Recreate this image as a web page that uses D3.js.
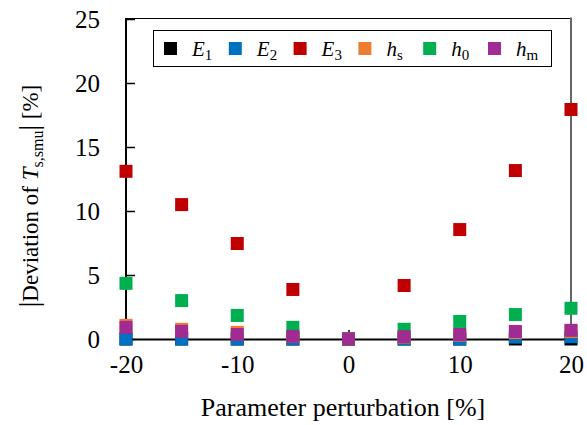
<!DOCTYPE html>
<html>
<head>
<meta charset="utf-8">
<script src="https://cdn.jsdelivr.net/npm/d3@7"></script>
<style>
  body { margin: 0; background: #fff; }
  text { font-family: "Liberation Serif", "Times New Roman", serif; fill: #000; }
</style>
</head>
<body>
<div id="chart"></div>
<script>
// parameter perturbation [%]
const perturbation = [-20, -15, -10, -5, 0, 5, 10, 15, 20];

// |deviation of T_s,smu| [%] for each perturbed parameter
const E1 = [0, 0, 0, 0, 0, 0, 0, 0, 0];
const E2 = [0, 0, 0, 0, 0, 0, 0, 0.15, 0.18];
const E3 = [13.1, 10.5, 7.46, 3.87, 0, 4.18, 8.55, 13.16, 17.93];
const hs = [1.07, 0.76, 0.52, 0.2, 0, 0.15, 0.3, 0.5, 0.58];
const h0 = [4.35, 3.0, 1.84, 0.91, 0, 0.76, 1.37, 1.91, 2.4];
const hm = [0.91, 0.6, 0.35, 0.21, 0, 0.18, 0.35, 0.59, 0.68];

const seriesValues = [E1, E2, E3, hs, h0, hm];
const seriesLabels = [["E", "1"], ["E", "2"], ["E", "3"], ["h", "s"], ["h", "0"], ["h", "m"]];
const seriesColors = ["#000000", "#0070C0", "#C00000", "#ED7D31", "#00B050", "#A02B93"];

const xTicks = [-20, -10, 0, 10, 20];
const yTicks = [0, 5, 10, 15, 20, 25];

function draw_chart(wrapper)
{
  let svg = d3.select(wrapper).append("svg")
    .attr("width", 587).attr("height", 425);

  let scalex = d3.scaleLinear().domain([-20, 20]).range([126, 571]);
  let scaley = d3.scaleLinear().domain([0, 25]).range([339, 19]);

  // plot area border (top black, right grey)
  svg.append("line")
    .attr("x1", 126).attr("x2", 571)
    .attr("y1", 18.5).attr("y2", 18.5)
    .attr("stroke", "#000").attr("stroke-width", 1.2);
  svg.append("line")
    .attr("x1", 571).attr("x2", 571)
    .attr("y1", 17.5).attr("y2", 339)
    .attr("stroke", "#666").attr("stroke-width", 2);

  // plain hyphen for negatives, like the original
  let fmt = d => String(d);

  let y_axis = d3.axisLeft(scaley).tickValues(yTicks).tickFormat(fmt)
    .tickSizeInner(-9).tickSizeOuter(0).tickPadding(26);
  let gy = svg.append("g")
    .attr("transform", "translate(126,0)")
    .call(y_axis);

  let x_axis = d3.axisBottom(scalex).tickValues(xTicks).tickFormat(fmt)
    .tickSizeInner(-9).tickSizeOuter(0).tickPadding(16);
  let gx = svg.append("g")
    .attr("transform", "translate(0,339)")
    .call(x_axis);

  [gx, gy].forEach(g => {
    g.select(".domain").attr("stroke", "#000").attr("stroke-width", 2);
    g.selectAll(".tick line").attr("stroke", "#000").attr("stroke-width", 1.5);
    g.selectAll(".tick text")
      .style("font-family", "'Liberation Serif', serif")
      .style("font-size", "25px").attr("fill", "#000");
  });
  gy.select(".domain").attr("d", "M0,339V18");

  // markers, drawn in series order so the last one sits on top
  seriesValues.forEach((vals, i) => {
    svg.append("g")
      .selectAll("rect")
      .data(vals.map((v, j) => [perturbation[j], v]))
      .enter()
      .append("rect")
      .attr("x", d => scalex(d[0]) - 6.5)
      .attr("y", d => scaley(d[1]) - 6.5)
      .attr("width", 13)
      .attr("height", 13)
      .attr("fill", seriesColors[i]);
  });

  // legend
  svg.append("rect")
    .attr("x", 153.5).attr("y", 30.5)
    .attr("width", 398).attr("height", 36)
    .attr("fill", "#fff").attr("stroke", "#000").attr("stroke-width", 1);

  seriesLabels.forEach((lab, i) => {
    let lx = 164 + i * 64.8;
    svg.append("rect")
      .attr("x", lx).attr("y", 42)
      .attr("width", 13).attr("height", 13)
      .attr("fill", seriesColors[i]);
    let t = svg.append("text")
      .attr("x", lx + 28).attr("y", 56)
      .style("font-size", "21px");
    t.append("tspan").style("font-style", "italic").text(lab[0]);
    t.append("tspan").attr("dy", 4).style("font-size", "15px").text(lab[1]);
  });

  // x axis title
  svg.append("text")
    .attr("x", 343).attr("y", 416)
    .attr("text-anchor", "middle")
    .style("font-size", "26px")
    .text("Parameter perturbation [%]");

  // y axis title
  let yt = svg.append("text")
    .attr("transform", "translate(38,196) rotate(-90)")
    .attr("text-anchor", "middle")
    .style("font-size", "23px");
  yt.append("tspan").style("font-size", "28px").text("|");
  yt.append("tspan").text("Deviation of ");
  yt.append("tspan").style("font-style", "italic").text("T");
  yt.append("tspan").attr("dy", 5).style("font-size", "16px").text("s,smu");
  yt.append("tspan").attr("dy", -5).style("font-size", "28px").text("|");
  yt.append("tspan").text(" [%]");
}

draw_chart("#chart");
</script>
</body>
</html>
